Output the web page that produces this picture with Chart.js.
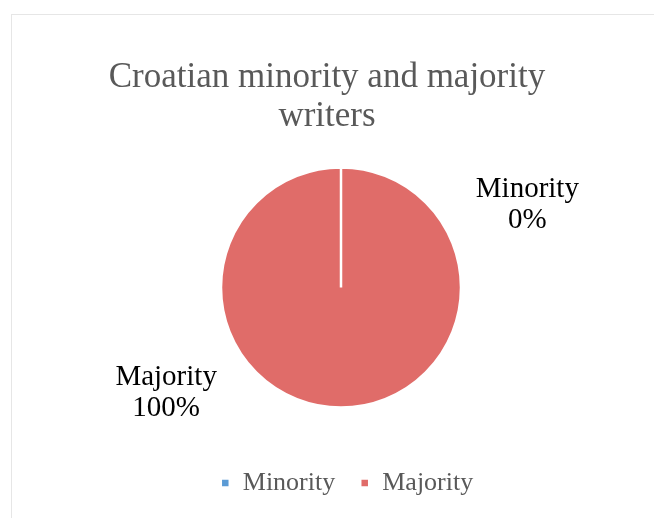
<!DOCTYPE html>
<html>
<head>
<meta charset="utf-8">
<script src="https://cdn.jsdelivr.net/npm/chart.js@4.4.1/dist/chart.umd.min.js"></script>
<style>
    body { margin: 0; background: #fff; }
    #frame { position: absolute; left: 11px; top: 14px; width: 660px; height: 520px; border: 1px solid #e6e6e6; }
    #wrap { position: absolute; left: 0; top: 0; width: 654px; height: 518px; }
</style>
</head>
<body>
<div id="frame"></div>
<div id="wrap"><canvas id="chart"></canvas></div>
<script>
const categories = ['Minority', 'Majority'];
const shares = [0, 100];
const sliceColors = ['#5b9bd5', '#e06c69'];
const labelAngles = [-24, 149];

// Se desplaza el pastel y la leyenda un poco, como en el original
const shiftArea = {
    id: 'shiftArea',
    afterLayout(chart) {
        chart.chartArea.left += 14;
        chart.chartArea.right += 14;
        chart.chartArea.top -= 3;
        chart.chartArea.bottom -= 3;
        chart.legend.left += 20;
        chart.legend.right += 20;
    }
};

// Etiquetas de datos fuera del pastel
const outsideLabels = {
    id: 'outsideLabels',
    afterDatasetsDraw(chart) {
        const ctx = chart.ctx;
        const arc = chart.getDatasetMeta(0).data[0];
        ctx.save();
        ctx.font = '29px "Liberation Serif", serif';
        ctx.fillStyle = '#000';
        ctx.textAlign = 'center';
        ctx.textBaseline = 'middle';
        categories.forEach((name, i) => {
            const a = labelAngles[i] * Math.PI / 180;
            const r = arc.outerRadius * 1.7;
            const x = arc.x + Math.cos(a) * r;
            const y = arc.y + Math.sin(a) * r;
            ctx.fillText(name, x, y - 15);
            ctx.fillText(shares[i] + '%', x, y + 16);
        });
        ctx.restore();
    }
};

new Chart(document.getElementById('chart'), {
    type: 'pie',
    data: {
        labels: categories,
        datasets: [{
            data: shares,
            backgroundColor: sliceColors,
            borderColor: '#ffffff',
            borderWidth: 2.5,
            radius: 120
        }]
    },
    options: {
        responsive: true,
        maintainAspectRatio: false,
        animation: false,
        layout: { padding: { top: 59, bottom: 12 } },
        plugins: {
            title: {
                display: true,
                text: ['Croatian minority and majority', 'writers'],
                color: '#595959',
                font: { family: '"Liberation Serif", serif', size: 35, weight: 'normal', lineHeight: 1.1 },
                padding: { top: 0, bottom: 0 }
            },
            legend: {
                position: 'bottom',
                labels: {
                    color: '#595959',
                    font: { family: '"Liberation Serif", serif', size: 26 },
                    boxWidth: 9,
                    boxHeight: 9,
                    padding: 25
                }
            },
            tooltip: { enabled: false }
        }
    },
    plugins: [shiftArea, outsideLabels]
});
</script>
</body>
</html>
